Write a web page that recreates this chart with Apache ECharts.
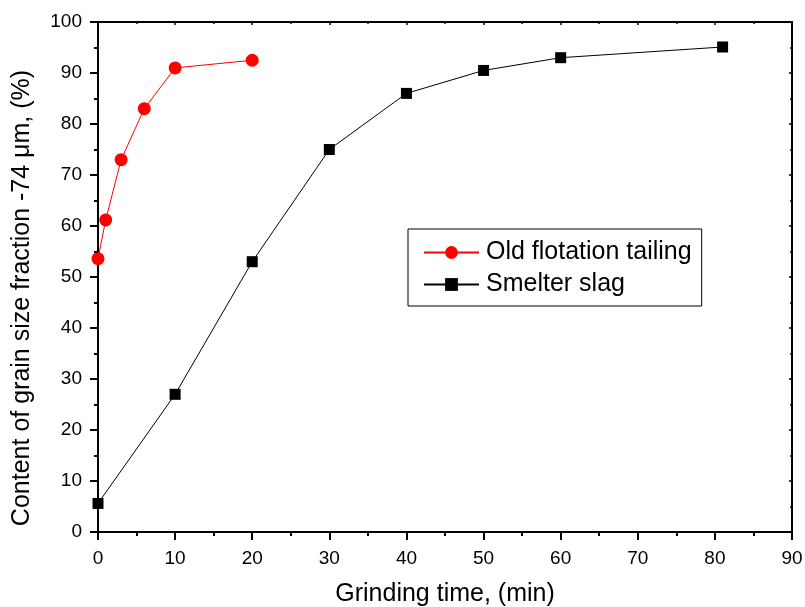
<!DOCTYPE html>
<html>
<head>
<meta charset="utf-8">
<script src="https://cdn.jsdelivr.net/npm/echarts@6/dist/echarts.min.js"></script>
<style>html,body{margin:0;padding:0;background:#fff}#c{width:805px;height:607px}</style>
</head>
<body>
<div id="c"></div>
<script>
const tailingX = [0, 1, 3, 6, 10, 20];
const tailingY = [53.6, 61.2, 73, 83, 91, 92.5];
const slagX = [0, 10, 20, 30, 40, 50, 60, 81];
const slagY = [5.6, 27, 53, 75, 86, 90.5, 93, 95.1];
const seriesNames = ['Old flotation tailing', 'Smelter slag'];
const xTitle = 'Grinding time, (min)';
const yTitle = 'Content of grain size fraction -74 \u03bcm, (%)';

const font = 'Liberation Sans, Arial, sans-serif';
const chart = echarts.init(document.getElementById('c'), null, {renderer: 'canvas'});
const mainAxis = {
  axisLine: {show: true, onZero: false, lineStyle: {color: '#000', width: 2}},
  axisTick: {show: true, inside: false, length: 8, lineStyle: {color: '#000', width: 2}},
  minorTick: {show: true, splitNumber: 2, length: 4, lineStyle: {color: '#000', width: 2}},
  splitLine: {show: false}
};
const mirrorAxis = {
  axisLine: {show: true, onZero: false, lineStyle: {color: '#000', width: 2}},
  axisTick: {show: true, inside: true, length: 3, lineStyle: {color: '#000', width: 1.5}},
  minorTick: {show: true, splitNumber: 2, length: 2, lineStyle: {color: '#000', width: 1.5}},
  splitLine: {show: false},
  axisLabel: {show: false}
};
chart.setOption({
  animation: false,
  backgroundColor: '#fff',
  grid: {left: 98, right: 13, top: 22, bottom: 75, containLabel: false, outerBoundsMode: 'none'},
  legend: {
    show: true,
    left: 408, top: 229,
    orient: 'vertical',
    data: seriesNames,
    itemWidth: 55, itemHeight: 16, itemGap: 7,
    padding: [11, 10, 9, 15],
    borderColor: '#000', borderWidth: 1,
    textStyle: {fontFamily: font, fontSize: 25, color: '#000', padding: [0, 0, 0, 2]}
  },
  xAxis: [
    Object.assign({}, mainAxis, {
      type: 'value', min: 0, max: 90, interval: 10, position: 'bottom',
      name: xTitle, nameLocation: 'middle', nameGap: 50,
      nameTextStyle: {fontFamily: font, fontSize: 25, color: '#000'},
      axisLabel: {fontFamily: font, fontSize: 19, color: '#000', margin: 17}
    }),
    Object.assign({}, mirrorAxis, {
      type: 'value', min: 0, max: 90, interval: 10, position: 'top'
    })
  ],
  yAxis: [
    Object.assign({}, mainAxis, {
      type: 'value', min: 0, max: 100, interval: 10, position: 'left',
      name: yTitle, nameLocation: 'middle', nameGap: 63, nameRotate: 90,
      nameTextStyle: {fontFamily: font, fontSize: 25, color: '#000', padding: [0, 42, 0, 0]},
      axisLabel: {fontFamily: font, fontSize: 19, color: '#000', margin: 16}
    }),
    Object.assign({}, mirrorAxis, {
      type: 'value', min: 0, max: 100, interval: 10, position: 'right'
    })
  ],
  series: [
    {
      name: seriesNames[0], type: 'line',
      data: tailingX.map((x, i) => [x, tailingY[i]]),
      symbol: 'circle', symbolSize: 13,
      lineStyle: {color: '#ff0000', width: 1},
      itemStyle: {color: '#ff0000'},
      z: 3
    },
    {
      name: seriesNames[1], type: 'line',
      data: slagX.map((x, i) => [x, slagY[i]]),
      symbol: 'rect', symbolSize: 11,
      lineStyle: {color: '#000', width: 1},
      itemStyle: {color: '#000'},
      z: 3
    }
  ]
});
</script>
</body>
</html>
